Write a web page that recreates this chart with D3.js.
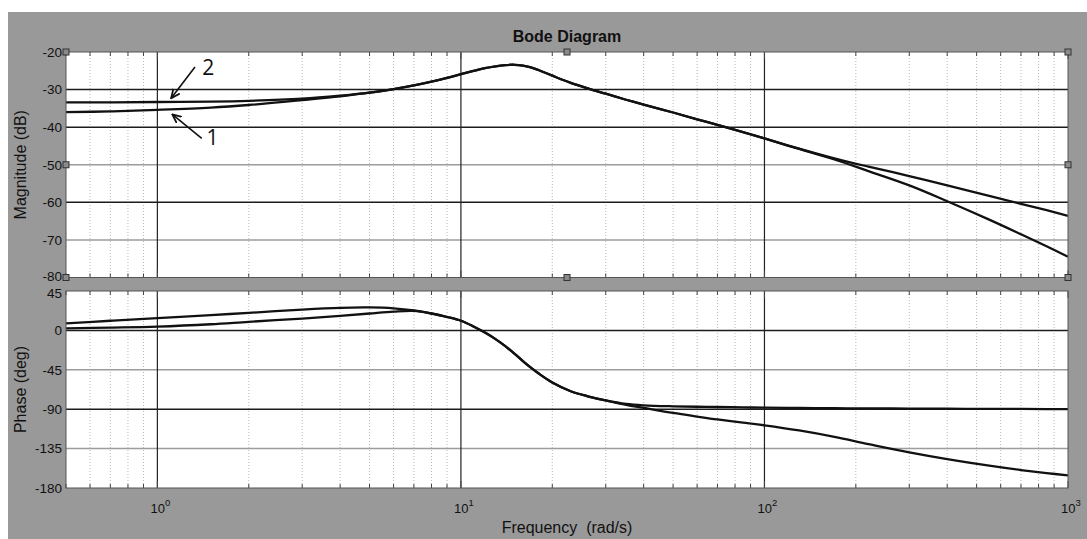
<!DOCTYPE html>
<html>
<head>
<meta charset="utf-8">
<script src="https://cdn.jsdelivr.net/npm/d3@7"></script>
<style>
  body { margin: 0; background: #fff; }
  svg { display: block; font-family: "Liberation Sans", Arial, sans-serif; }
</style>
</head>
<body>
<div id="chart"></div>
<script>
(function () {
    // frequency samples (rad/s)
    var freq = [0.5, 0.7, 1, 1.5, 2, 3, 4, 5, 6, 7, 8, 9, 10, 11, 12, 13, 14, 15, 16, 17, 18, 20, 23, 26, 30, 35, 40, 50, 60, 70, 85, 100, 130, 170, 220, 300, 400, 550, 700, 850, 1000];

    // magnitude (dB)
    var mag1 = [-36.0, -35.8, -35.4, -34.8, -34.1, -32.8, -31.8, -30.8, -29.85, -28.9, -27.9, -26.9, -25.9, -25.05, -24.3, -23.8, -23.5, -23.4, -23.6, -24.1, -24.8, -26.3, -28.2, -29.6, -31.1, -32.7, -34.0, -36.1, -37.9, -39.4, -41.3, -43.0, -45.7, -48.3, -50.5, -53.0, -55.5, -58.3, -60.4, -62.1, -63.6];
    var mag2 = [-33.4, -33.4, -33.3, -33.2, -33.0, -32.4, -31.6, -30.8, -29.85, -28.9, -27.9, -26.9, -25.9, -25.05, -24.3, -23.8, -23.5, -23.4, -23.6, -24.1, -24.8, -26.3, -28.2, -29.6, -31.1, -32.7, -34.0, -36.1, -37.9, -39.4, -41.3, -43.0, -45.8, -48.6, -51.7, -55.5, -59.7, -64.6, -68.5, -71.7, -74.5];

    // phase (deg)
    var phase1 = [8, 11, 14, 17.5, 20, 23.8, 25.8, 26.2, 25.2, 22.8, 19.3, 15.3, 11, 4.5, -2.5, -10, -18, -26.5, -35, -42.5, -49, -59.5, -69.5, -75, -80, -84, -85.6, -86.7, -87.2, -87.5, -87.9, -88.2, -88.6, -88.9, -89.1, -89.3, -89.5, -89.6, -89.7, -89.8, -89.9];
    var phase2 = [2.4, 3.2, 4.3, 7, 9.8, 13.5, 16.5, 19.3, 21.5, 22.3, 19.3, 15.3, 11, 4.5, -2.5, -10, -18, -26.5, -35, -42.5, -49, -59.5, -69.5, -75, -80, -85, -88.5, -94.3, -98.4, -101.7, -105.3, -108.4, -114.3, -121.6, -129.8, -139.3, -147, -154.5, -159.5, -163, -165.5];

    var magTicks = [-20, -30, -40, -50, -60, -70, -80];
    var phaseTicks = [45, 0, -45, -90, -135, -180];
    var decadeExp = [0, 1, 2, 3];

    // gridlines that come out darker in the screenshot
    var magDark = [-30, -40, -60];
    var phaseDark = [0, -90];

    var width = 1087, height = 539;
    var left = 66, right = 1068;

    var svg = d3.select("#chart")
        .append("svg")
        .attr("width", width)
        .attr("height", height);

    svg.append("rect")
        .attr("x", 8).attr("y", 12)
        .attr("width", width - 8).attr("height", height - 12)
        .attr("fill", "#999999");

    var defs = svg.append("defs");
    defs.append("marker")
        .attr("id", "arrow")
        .attr("viewBox", "0 0 10 10")
        .attr("refX", 9).attr("refY", 5)
        .attr("markerWidth", 10).attr("markerHeight", 10)
        .attr("markerUnits", "userSpaceOnUse")
        .attr("orient", "auto")
        .append("path")
        .attr("d", "M0,1 L9,5 L0,9")
        .attr("fill", "none")
        .attr("stroke", "#111")
        .attr("stroke-width", 1.8);

    var x = d3.scaleLog().domain([0.5, 1000]).range([left, right]);
    var yMag = d3.scaleLinear().domain([-80, -20]).range([277.5, 52]);
    var yPh = d3.scaleLinear().domain([-180, 45]).range([488, 291]);

    var allTicks = x.ticks();
    function isDecade(v) {
        var l = Math.log10(v);
        return Math.abs(l - Math.round(l)) < 1e-6;
    }
    var minorTicks = allTicks.filter(function (v) { return !isDecade(v) && v > 0.5; });
    var majorTicks = allTicks.filter(isDecade);

    function panel(y, ticks, dark, series, label, id) {
        var y0 = y.range()[0], y1 = y.range()[1];
        var g = svg.append("g");

        g.append("rect")
            .attr("x", left).attr("y", y1)
            .attr("width", right - left).attr("height", y0 - y1)
            .attr("fill", "#fff");

        // minor grid
        g.selectAll(".minor")
            .data(minorTicks)
            .enter().append("line")
            .attr("x1", function (d) { return x(d); })
            .attr("x2", function (d) { return x(d); })
            .attr("y1", y1).attr("y2", y0)
            .attr("stroke", "#b8b8b8")
            .attr("stroke-width", 1)
            .attr("stroke-dasharray", "1,2");

        // horizontal grid
        g.selectAll(".hgrid")
            .data(ticks.filter(function (d) { return d != y.domain()[0] && d != y.domain()[1]; }))
            .enter().append("line")
            .attr("x1", left).attr("x2", right)
            .attr("y1", function (d) { return y(d); })
            .attr("y2", function (d) { return y(d); })
            .attr("stroke", function (d) { return dark.indexOf(d) >= 0 ? "#1c1c1c" : "#9c9c9c"; })
            .attr("stroke-width", 1.5);

        // decade grid
        g.selectAll(".vgrid")
            .data(majorTicks.filter(function (d) { return d < 1000; }))
            .enter().append("line")
            .attr("x1", function (d) { return x(d); })
            .attr("x2", function (d) { return x(d); })
            .attr("y1", y1).attr("y2", y0)
            .attr("stroke", "#222")
            .attr("stroke-width", 1.2);

        // tick marks on top and bottom edges
        [y0, y1].forEach(function (edge) {
            var dir = edge == y0 ? -1 : 1;
            g.selectAll(null)
                .data(allTicks)
                .enter().append("line")
                .attr("x1", function (d) { return x(d); })
                .attr("x2", function (d) { return x(d); })
                .attr("y1", edge)
                .attr("y2", function (d) { return edge + dir * (isDecade(d) ? 7 : 4); })
                .attr("stroke", "#444")
                .attr("stroke-width", 1);
        });

        var clipId = "clip-" + id;
        defs.append("clipPath").attr("id", clipId)
            .append("rect")
            .attr("x", left).attr("y", y1)
            .attr("width", right - left).attr("height", y0 - y1);

        var line = d3.line()
            .x(function (d, i) { return x(freq[i]); })
            .y(function (d) { return y(d); })
            .curve(d3.curveCatmullRom.alpha(0.5));

        g.selectAll(".curve")
            .data(series)
            .enter().append("path")
            .attr("clip-path", "url(#" + clipId + ")")
            .attr("d", function (d) { return line(d); })
            .attr("fill", "none")
            .attr("stroke", "#111")
            .attr("stroke-width", 2.3)
            .attr("stroke-linejoin", "round");

        g.append("rect")
            .attr("x", left).attr("y", y1)
            .attr("width", right - left).attr("height", y0 - y1)
            .attr("fill", "none")
            .attr("stroke", "#555")
            .attr("stroke-width", 1);

        // y tick labels; nudge the two labels at the panel gap apart
        g.selectAll(".ylab")
            .data(ticks)
            .enter().append("text")
            .attr("x", left - 4)
            .attr("y", function (d) {
                var off = 0;
                if (id == "mag" && d == y.domain()[0]) off = -1;
                if (id == "ph" && d == y.domain()[1]) off = 2.5;
                return y(d) + off;
            })
            .attr("dy", "0.36em")
            .attr("text-anchor", "end")
            .attr("font-size", 13.5)
            .attr("fill", "#111")
            .text(function (d) { return d; });

        g.append("text")
            .attr("transform", "translate(26," + ((y0 + y1) / 2) + ") rotate(-90)")
            .attr("text-anchor", "middle")
            .attr("font-size", 16)
            .attr("fill", "#111")
            .text(label);

        return g;
    }

    panel(yMag, magTicks, magDark, [mag1, mag2], "Magnitude (dB)", "mag");
    panel(yPh, phaseTicks, phaseDark, [phase1, phase2], "Phase (deg)", "ph");

    // selection handles on the magnitude axes
    var mid = Math.sqrt(x.domain()[0] * x.domain()[1]);
    var handles = [
        [x.domain()[0], -20], [mid, -20], [x.domain()[1], -20],
        [x.domain()[0], -50], [x.domain()[1], -50],
        [x.domain()[0], -80], [mid, -80], [x.domain()[1], -80]
    ];
    svg.selectAll(".handle")
        .data(handles)
        .enter().append("rect")
        .attr("x", function (d) { return x(d[0]) - 3; })
        .attr("y", function (d) { return yMag(d[1]) - 3; })
        .attr("width", 6).attr("height", 6)
        .attr("fill", "#8a8a8a")
        .attr("stroke", "#333")
        .attr("stroke-width", 1);

    // x tick labels 10^n
    var xl = svg.selectAll(".xlab")
        .data(decadeExp)
        .enter().append("text")
        .attr("x", function (d) { return x(Math.pow(10, d)) + 3; })
        .attr("y", 513)
        .attr("text-anchor", "middle")
        .attr("font-size", 13)
        .attr("fill", "#111");
    xl.append("tspan").text("10");
    xl.append("tspan")
        .attr("dy", -7)
        .attr("font-size", 9.5)
        .text(function (d) { return d; });

    svg.append("text")
        .attr("x", (left + right) / 2)
        .attr("y", 533)
        .attr("text-anchor", "middle")
        .attr("font-size", 16)
        .attr("fill", "#111")
        .attr("xml:space", "preserve")
        .text("Frequency  (rad/s)");

    svg.append("text")
        .attr("x", (left + right) / 2)
        .attr("y", 42)
        .attr("text-anchor", "middle")
        .attr("font-size", 16)
        .attr("font-weight", "bold")
        .attr("fill", "#111")
        .text("Bode Diagram");

    // curve annotations
    var notes = [
        { label: "2", tail: [1.33, -24.0], tip: [1.11, -32.3], at: [1.47, -26.2] },
        { label: "1", tail: [1.40, -43.0], tip: [1.12, -36.6], at: [1.52, -44.8] }
    ];
    notes.forEach(function (n) {
        svg.append("line")
            .attr("x1", x(n.tail[0])).attr("y1", yMag(n.tail[1]))
            .attr("x2", x(n.tip[0])).attr("y2", yMag(n.tip[1]))
            .attr("stroke", "#111")
            .attr("stroke-width", 1.6)
            .attr("marker-end", "url(#arrow)");
        svg.append("text")
            .attr("x", x(n.at[0]))
            .attr("y", yMag(n.at[1]))
            .attr("text-anchor", "middle")
            .attr("font-family", "'Open Sans', 'DejaVu Sans', sans-serif")
            .attr("font-size", 21)
            .attr("fill", "#111")
            .text(n.label);
    });
})();
</script>
</body>
</html>
